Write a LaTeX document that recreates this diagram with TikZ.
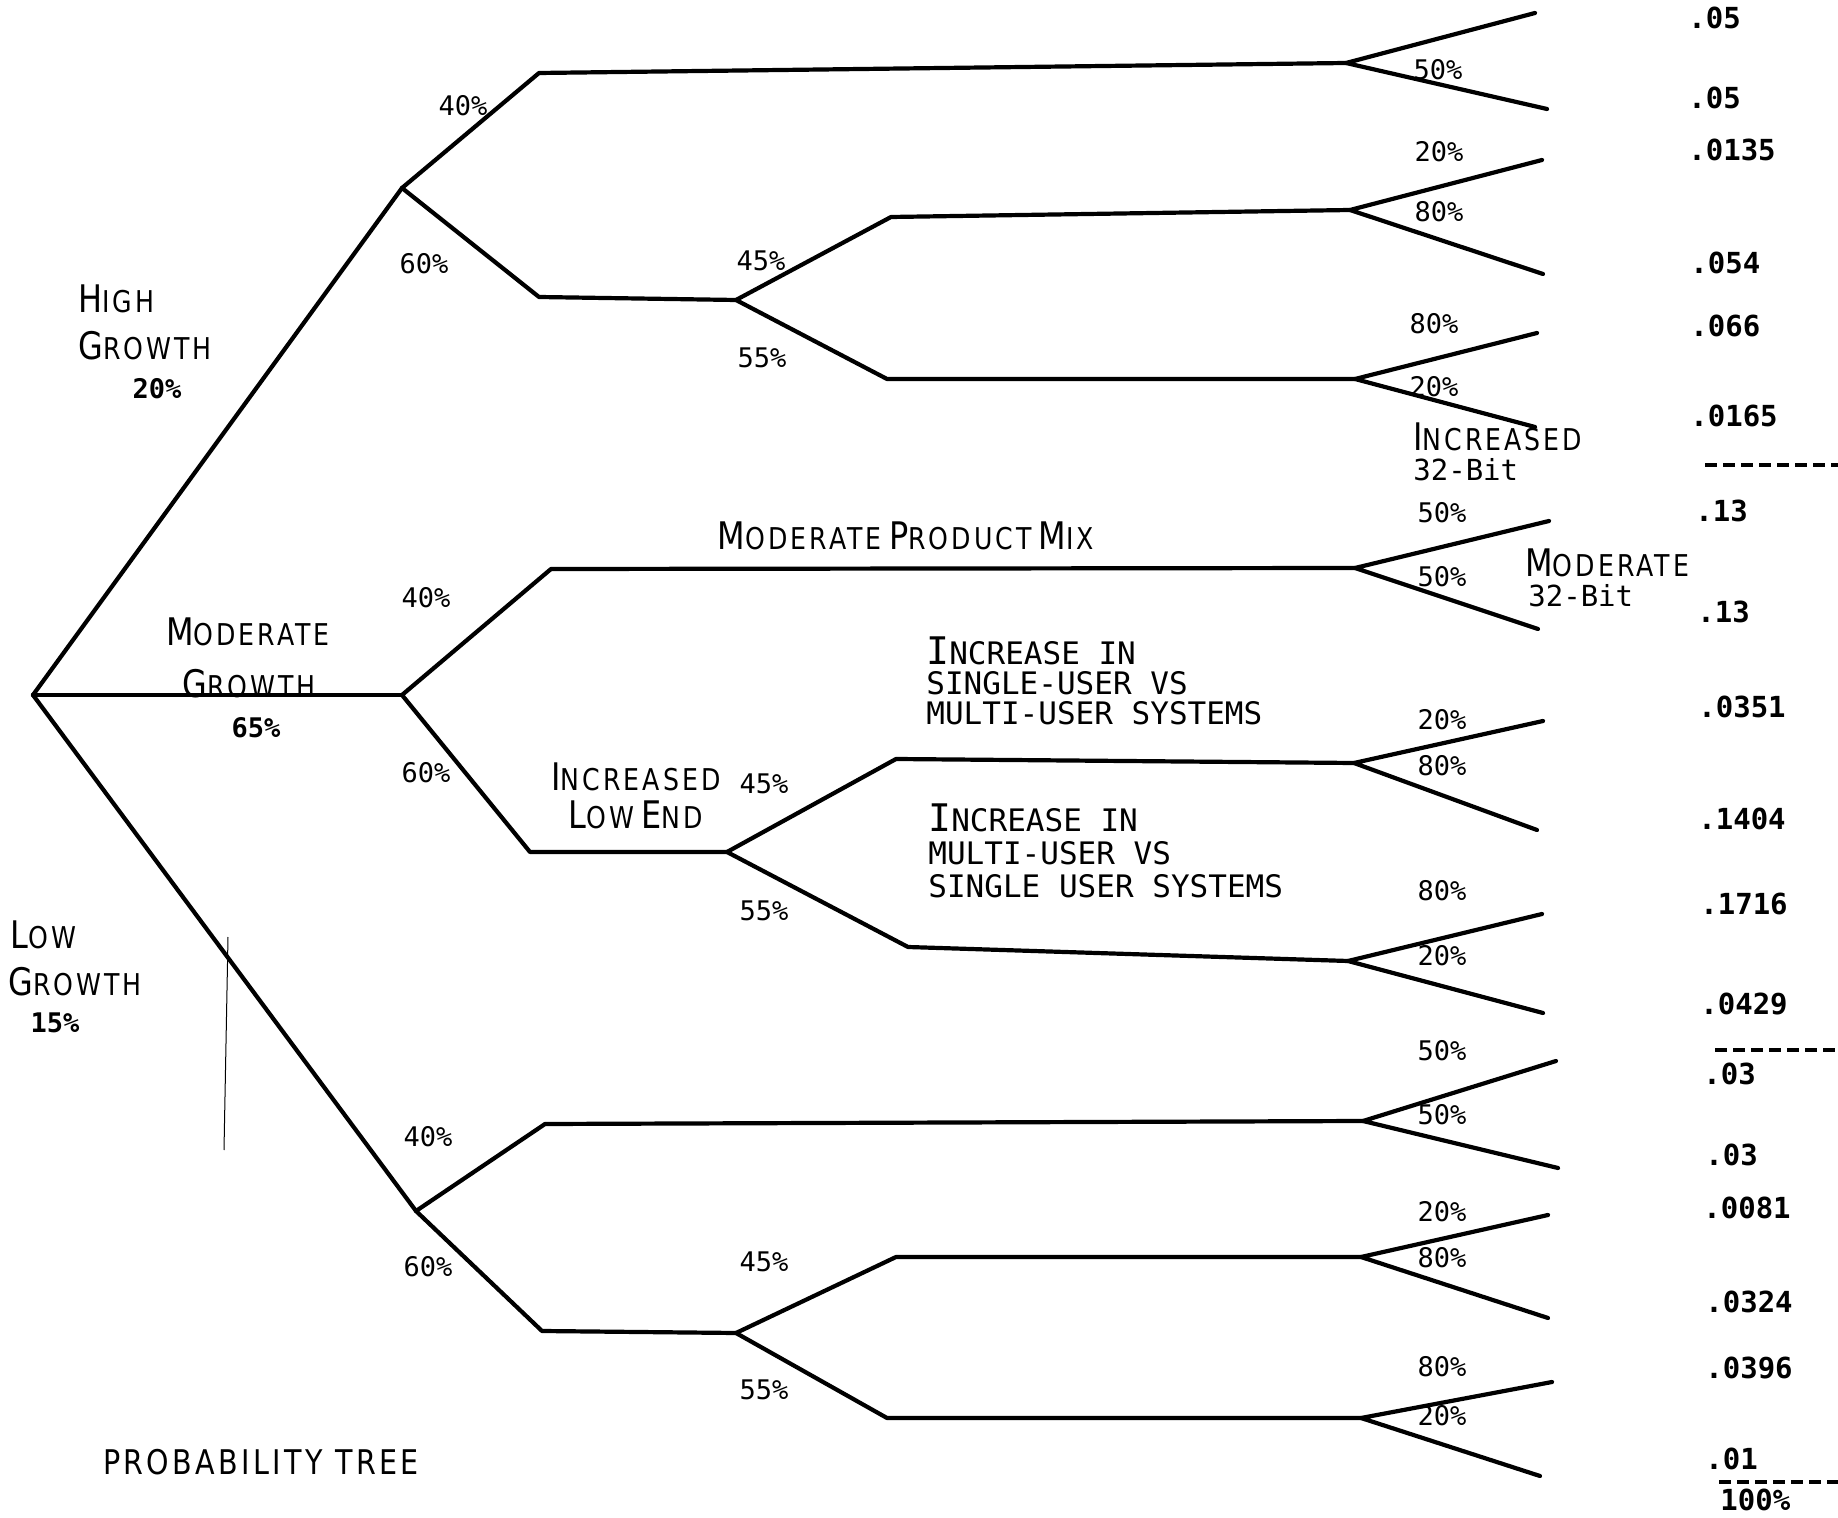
\documentclass[tikz,border=0pt]{standalone}
\usepackage{fontspec}
\usepackage{tikz}
\newfontfamily\leroyfont[FakeStretch=0.84,LetterSpace=10]{DejaVu Sans}
\newfontfamily\typerfont{DejaVu Sans Mono}
\newcommand{\scword}[2]{{\fontsize{19}{20}\selectfont #1}{\fontsize{15}{16}\selectfont #2}}
\tikzset{
  branch/.style={line width=2.1pt, line cap=round, line join=round},
  pctlabel/.style={font=\typerfont\fontsize{13.5}{14}\selectfont, inner sep=0pt},
  boldpct/.style={font=\typerfont\bfseries\fontsize{13.5}{14}\selectfont, inner sep=0pt},
  vallabel/.style={font=\typerfont\bfseries\fontsize{14.5}{15}\selectfont, inner sep=0pt, anchor=west},
  caselabel/.style={font=\leroyfont, inner sep=0pt, align=left},
  typeblock/.style={font=\typerfont\fontsize{15.5}{15}\selectfont, inner sep=0pt, align=left, anchor=north west},
  totalline/.style={line width=1.6pt, dash pattern=on 6pt off 3pt}
}
\begin{document}
\begin{tikzpicture}[x=0.5pt, y=-0.5pt]
  \useasboundingbox (0,0) rectangle (1838,1518);

  % growth
  \coordinate (root) at (33,695);
  \coordinate (high) at (402,188);
  \coordinate (moderate) at (402,695);
  \coordinate (low) at (416,1211);

  % product mix, high growth
  \coordinate (high_a) at (539,73);    \coordinate (high_a_fork) at (1346,63);
  \coordinate (high_b) at (539,297);   \coordinate (high_mix) at (736,300);
  \coordinate (high_ba) at (891,217);  \coordinate (high_ba_fork) at (1350,210);
  \coordinate (high_bb) at (887,379);  \coordinate (high_bb_fork) at (1355,379);
  % product mix, moderate growth
  \coordinate (mod_a) at (551,569);    \coordinate (mod_a_fork) at (1355,568);
  \coordinate (mod_b) at (530,852);    \coordinate (mod_mix) at (727,852);
  \coordinate (mod_ba) at (896,759);   \coordinate (mod_ba_fork) at (1354,763);
  \coordinate (mod_bb) at (908,947);   \coordinate (mod_bb_fork) at (1348,961);
  % product mix, low growth
  \coordinate (low_a) at (545,1124);   \coordinate (low_a_fork) at (1363,1121);
  \coordinate (low_b) at (542,1331);   \coordinate (low_mix) at (736,1333);
  \coordinate (low_ba) at (896,1257);  \coordinate (low_ba_fork) at (1361,1257);
  \coordinate (low_bb) at (887,1418);  \coordinate (low_bb_fork) at (1361,1418);

  % 32-bit leaves
  \coordinate (high_a_up) at (1535,13);    \coordinate (high_a_dn) at (1547,109);
  \coordinate (high_ba_up) at (1542,160);  \coordinate (high_ba_dn) at (1543,274);
  \coordinate (high_bb_up) at (1537,333);  \coordinate (high_bb_dn) at (1535,427);
  \coordinate (mod_a_up) at (1549,521);    \coordinate (mod_a_dn) at (1538,629);
  \coordinate (mod_ba_up) at (1543,721);   \coordinate (mod_ba_dn) at (1537,830);
  \coordinate (mod_bb_up) at (1542,914);   \coordinate (mod_bb_dn) at (1543,1013);
  \coordinate (low_a_up) at (1556,1061);   \coordinate (low_a_dn) at (1558,1168);
  \coordinate (low_ba_up) at (1548,1215);  \coordinate (low_ba_dn) at (1548,1318);
  \coordinate (low_bb_up) at (1552,1382);  \coordinate (low_bb_dn) at (1540,1476);

  \draw[branch] (root) -- (high);
  \draw[branch] (root) -- (moderate);
  \draw[branch] (root) -- (low);

  \draw[branch] (high) -- (high_a) -- (high_a_fork);
  \draw[branch] (high) -- (high_b) -- (high_mix);
  \draw[branch] (high_mix) -- (high_ba) -- (high_ba_fork);
  \draw[branch] (high_mix) -- (high_bb) -- (high_bb_fork);
  \draw[branch] (moderate) -- (mod_a) -- (mod_a_fork);
  \draw[branch] (moderate) -- (mod_b) -- (mod_mix);
  \draw[branch] (mod_mix) -- (mod_ba) -- (mod_ba_fork);
  \draw[branch] (mod_mix) -- (mod_bb) -- (mod_bb_fork);
  \draw[branch] (low) -- (low_a) -- (low_a_fork);
  \draw[branch] (low) -- (low_b) -- (low_mix);
  \draw[branch] (low_mix) -- (low_ba) -- (low_ba_fork);
  \draw[branch] (low_mix) -- (low_bb) -- (low_bb_fork);

  \draw[branch] (high_a_up) -- (high_a_fork) -- (high_a_dn);
  \draw[branch] (high_ba_up) -- (high_ba_fork) -- (high_ba_dn);
  \draw[branch] (high_bb_up) -- (high_bb_fork) -- (high_bb_dn);
  \draw[branch] (mod_a_up) -- (mod_a_fork) -- (mod_a_dn);
  \draw[branch] (mod_ba_up) -- (mod_ba_fork) -- (mod_ba_dn);
  \draw[branch] (mod_bb_up) -- (mod_bb_fork) -- (mod_bb_dn);
  \draw[branch] (low_a_up) -- (low_a_fork) -- (low_a_dn);
  \draw[branch] (low_ba_up) -- (low_ba_fork) -- (low_ba_dn);
  \draw[branch] (low_bb_up) -- (low_bb_fork) -- (low_bb_dn);

  % stray pen mark
  \coordinate (mark_top) at (228,937);
  \coordinate (mark_bot) at (224,1150);
  \draw[line width=0.5pt] (mark_top) -- (mark_bot);

  % growth labels
  \node[caselabel, anchor=west] (high_name) at (78,299) {\scword{H}{IGH}};
  \node[caselabel, anchor=west] (high_name2) at (78,346) {\scword{G}{ROWTH}};
  \node[boldpct] (high_pct) at (157,389) {20\%};
  \node[caselabel] (mod_name) at (248,632) {\scword{M}{ODERATE}};
  \node[caselabel] (mod_name2) at (249,684) {\scword{G}{ROWTH}};
  \node[boldpct] (mod_pct) at (256,728) {65\%};
  \node[caselabel, anchor=west] (low_name) at (10,935) {\scword{L}{OW}};
  \node[caselabel, anchor=west] (low_name2) at (8,982) {\scword{G}{ROWTH}};
  \node[boldpct] (low_pct) at (55,1023) {15\%};

  % mix labels
  \node[pctlabel] (high_a_pct) at (463,106) {40\%};
  \node[pctlabel] (high_b_pct) at (424,264) {60\%};
  \node[pctlabel] (mod_a_pct) at (426,598) {40\%};
  \node[pctlabel] (mod_b_pct) at (426,773) {60\%};
  \node[pctlabel] (low_a_pct) at (428,1137) {40\%};
  \node[pctlabel] (low_b_pct) at (428,1267) {60\%};
  \node[pctlabel] (high_ba_pct) at (761,261) {45\%};
  \node[pctlabel] (high_bb_pct) at (762,358) {55\%};
  \node[pctlabel] (mod_ba_pct) at (764,784) {45\%};
  \node[pctlabel] (mod_bb_pct) at (764,911) {55\%};
  \node[pctlabel] (low_ba_pct) at (764,1262) {45\%};
  \node[pctlabel] (low_bb_pct) at (764,1390) {55\%};

  \node[caselabel] (mix_moderate) at (906,536) {\scword{M}{ODERATE} \scword{P}{RODUCT} \scword{M}{IX}};
  \node[caselabel, align=center] (mix_lowend) at (636,796) {\scword{I}{NCREASED}\\[4pt]\scword{L}{OW} \scword{E}{ND}};
  \node[typeblock] (mix_single) at (926,636) {{\fontsize{19}{15}\selectfont I}NCREASE IN\\SINGLE-USER VS\\MULTI-USER SYSTEMS};
  \node[typeblock, font=\typerfont\fontsize{15.5}{16.5}\selectfont] (mix_multi) at (928,803) {{\fontsize{19}{16.5}\selectfont I}NCREASE IN\\MULTI-USER VS\\SINGLE USER SYSTEMS};

  % 32-bit labels
  \node[pctlabel] (high_a_lo) at (1438,70) {50\%};
  \node[pctlabel] (high_ba_hi) at (1439,152) {20\%};
  \node[pctlabel] (high_ba_lo) at (1439,212) {80\%};
  \node[pctlabel] (high_bb_hi) at (1434,324) {80\%};
  \node[pctlabel] (high_bb_lo) at (1434,387) {20\%};
  \node[pctlabel] (mod_a_hi) at (1442,513) {50\%};
  \node[pctlabel] (mod_a_lo) at (1442,577) {50\%};
  \node[pctlabel] (mod_ba_hi) at (1442,720) {20\%};
  \node[pctlabel] (mod_ba_lo) at (1442,766) {80\%};
  \node[pctlabel] (mod_bb_hi) at (1442,891) {80\%};
  \node[pctlabel] (mod_bb_lo) at (1442,956) {20\%};
  \node[pctlabel] (low_a_hi) at (1442,1051) {50\%};
  \node[pctlabel] (low_a_lo) at (1442,1115) {50\%};
  \node[pctlabel] (low_ba_hi) at (1442,1212) {20\%};
  \node[pctlabel] (low_ba_lo) at (1442,1258) {80\%};
  \node[pctlabel] (low_bb_hi) at (1442,1367) {80\%};
  \node[pctlabel] (low_bb_lo) at (1442,1416) {20\%};

  \node[caselabel, anchor=west] (bit_inc) at (1413,437) {\scword{I}{NCREASED}};
  \node[pctlabel, anchor=west, font=\typerfont\fontsize{14.5}{15}\selectfont] (bit_inc2) at (1413,470) {32-Bit};
  \node[caselabel, anchor=west] (bit_mod) at (1525,563) {\scword{M}{ODERATE}};
  \node[pctlabel, anchor=west, font=\typerfont\fontsize{14.5}{15}\selectfont] (bit_mod2) at (1528,596) {32-Bit};

  % joint probabilities
  \node[vallabel] (val_01) at (1688,18) {.05};
  \node[vallabel] (val_02) at (1688,98) {.05};
  \node[vallabel] (val_03) at (1688,150) {.0135};
  \node[vallabel] (val_04) at (1690,263) {.054};
  \node[vallabel] (val_05) at (1690,326) {.066};
  \node[vallabel] (val_06) at (1690,416) {.0165};
  \node[vallabel] (val_07) at (1695,511) {.13};
  \node[vallabel] (val_08) at (1697,612) {.13};
  \node[vallabel] (val_09) at (1698,707) {.0351};
  \node[vallabel] (val_10) at (1698,819) {.1404};
  \node[vallabel] (val_11) at (1700,904) {.1716};
  \node[vallabel] (val_12) at (1700,1004) {.0429};
  \node[vallabel] (val_13) at (1703,1074) {.03};
  \node[vallabel] (val_14) at (1705,1155) {.03};
  \node[vallabel] (val_15) at (1703,1208) {.0081};
  \node[vallabel] (val_16) at (1705,1302) {.0324};
  \node[vallabel] (val_17) at (1705,1368) {.0396};
  \node[vallabel] (val_18) at (1705,1459) {.01};
  \node[vallabel] (val_total) at (1720,1500) {100\%};

  \coordinate (sum_high_l) at (1705,465);   \coordinate (sum_high_r) at (1838,465);
  \coordinate (sum_mod_l) at (1715,1050);   \coordinate (sum_mod_r) at (1838,1050);
  \coordinate (sum_low_l) at (1719,1482);   \coordinate (sum_low_r) at (1838,1482);
  \draw[totalline] (sum_high_l) -- (sum_high_r);
  \draw[totalline] (sum_mod_l) -- (sum_mod_r);
  \draw[totalline] (sum_low_l) -- (sum_low_r);

  \node[caselabel, font=\leroyfont\fontsize{17}{18}\selectfont] (title) at (261,1462) {PROBABILITY TREE};
\end{tikzpicture}
\end{document}
